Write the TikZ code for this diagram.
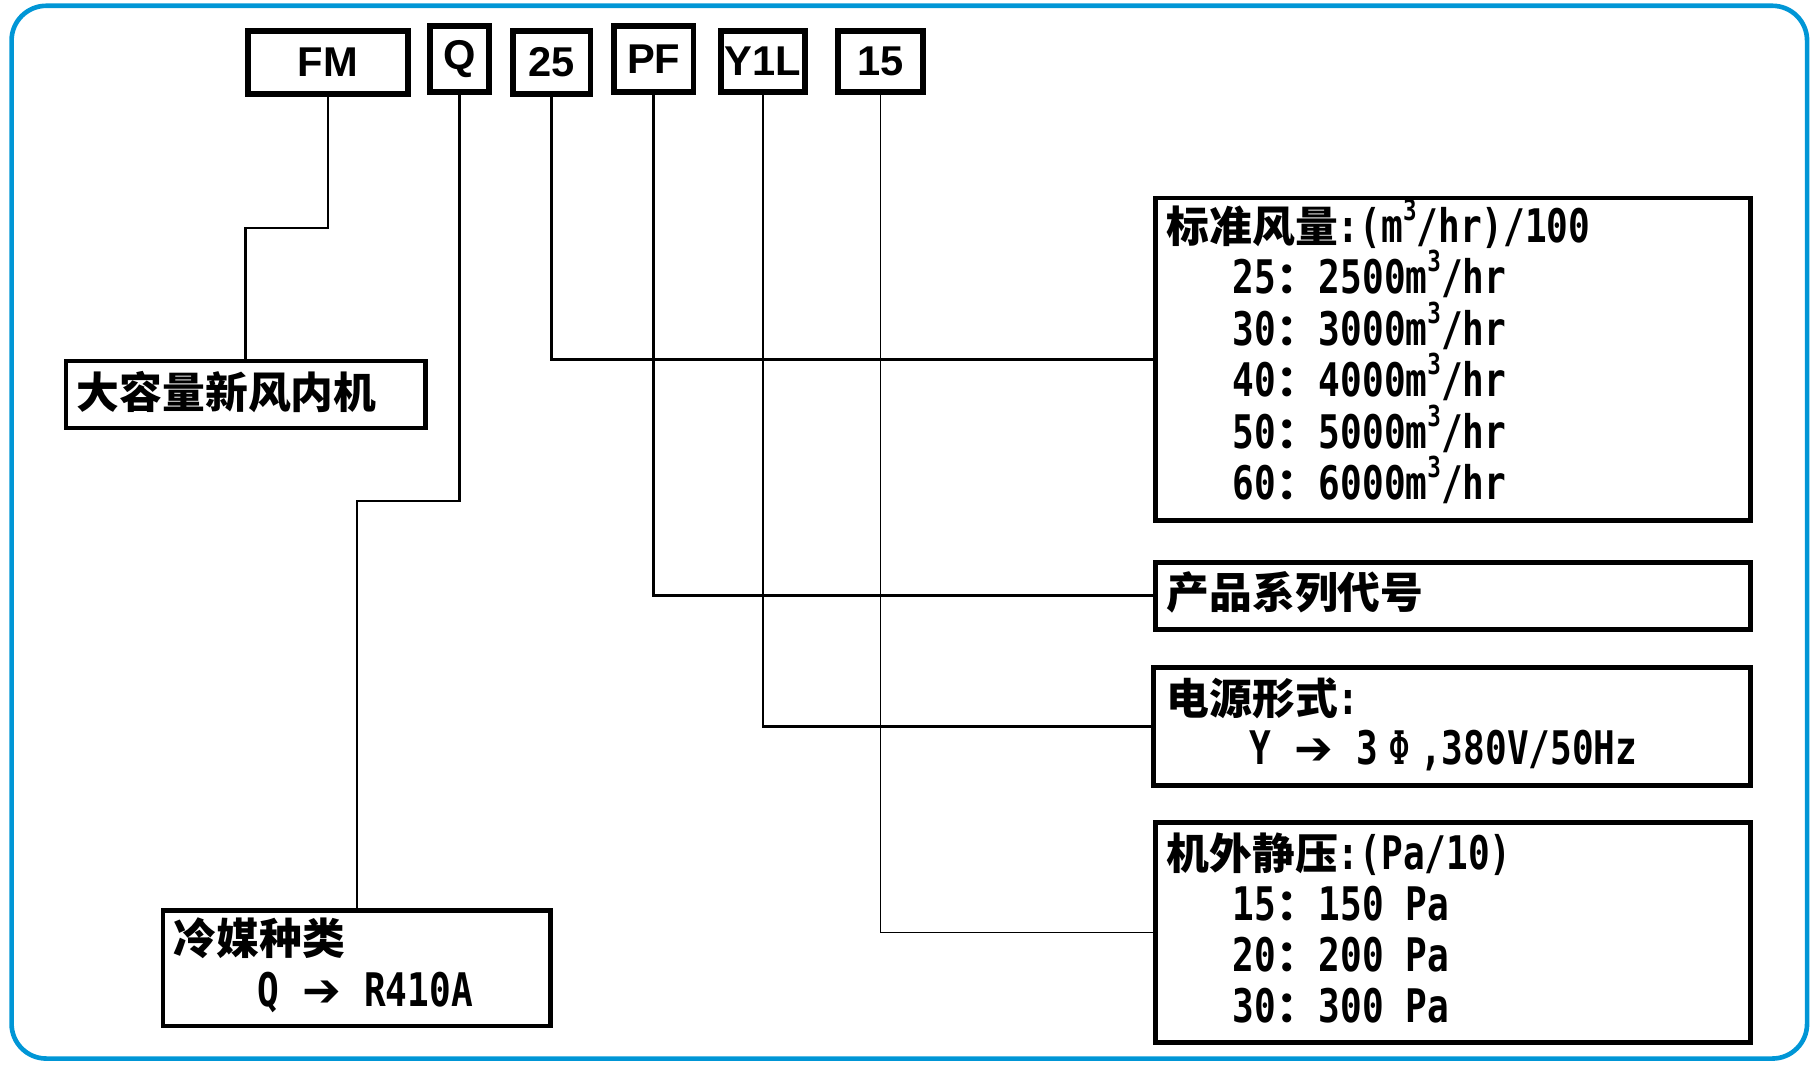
\documentclass[tikz,border=0pt]{standalone}
\usepackage{fontspec}
\setmainfont{DejaVu Sans Mono}[FakeStretch=0.78]
\newfontfamily\thinlat{DejaVu Sans Mono}[FakeStretch=0.8]
\newfontfamily\cjk{Noto Sans CJK SC}
\newfontfamily\lab{Liberation Sans}
\newfontfamily\arr{DejaVu Sans}
\definecolor{frameblue}{RGB}{0,150,214}
\newcommand\zh[1]{{\cjk\bfseries\fontsize{18.5pt}{18.5pt}\selectfont #1}}
\newcommand\cub{\smash{\raisebox{9.5pt}{\fontsize{12.5pt}{12.5pt}\selectfont 3}}}
\newcommand\rarr{\makebox[18pt][c]{\arr\fontsize{20pt}{20pt}\selectfont ➔}}
\newcommand\phii{\makebox[18pt][c]{\mdseries\thinlat\fontsize{20pt}{20pt}\selectfont Φ}}
\begin{document}
\begin{tikzpicture}[x=0.5pt,y=-0.5pt,
  topbox/.style={draw,line width=2.5pt,inner sep=0pt,font=\lab\bfseries\fontsize{18pt}{18pt}\selectfont},
  box/.style={draw,line width=2pt,inner sep=0pt},
  conn/.style={line width=1.2pt},
  thinconn/.style={line width=0.6pt},
  txt/.style={anchor=base west,inner sep=0pt,font=\bfseries\fontsize{20pt}{20pt}\selectfont}]
\useasboundingbox (0,0) rectangle (1568,920);
\draw[frameblue,line width=2pt,rounded corners=15pt] (10,5) rectangle (1562,915);

% top code boxes
\node[topbox,minimum width=69pt,minimum height=27.5pt] (fm) at (283.5,54) {FM};
\node[topbox,minimum width=25.5pt,minimum height=28.5pt] (q) at (397,51) {Q};
\node[topbox,minimum width=33.5pt,minimum height=27.5pt] (b25) at (477,54) {25};
\node[topbox,minimum width=34.5pt,minimum height=28.5pt] (pf) at (565,51) {PF};
\node[topbox,minimum width=36pt,minimum height=26.5pt] (y1l) at (659.5,53) {Y1L};
\node[topbox,minimum width=36.5pt,minimum height=26.5pt] (b15) at (761,53) {15};

% description boxes
\node[box,minimum width=155.5pt,minimum height=29pt] (l1) at (212.5,341) {};
\node[box,minimum width=167.5pt,minimum height=50pt] (l2) at (308.5,837) {};
\node[box,minimum width=257pt,minimum height=139.5pt] (r1) at (1256,310.5) {};
\node[box,minimum width=257pt,minimum height=29pt] (r2) at (1256,515) {};
\node[box,minimum width=258pt,minimum height=51pt] (r3) at (1255,628) {};
\node[box,minimum width=257pt,minimum height=95pt] (r4) at (1256,806) {};

% texts
\node[txt] (tl1) at (66,353) {\zh{大容量新风内机}};
\node[txt] (tl2a) at (150,825) {\zh{冷媒种类}};
\node[txt] (tl2b) at (222,870) {Q \rarr{} R410A};

\node[txt] (tr1a) at (1008,210) {\zh{标准风量}:(m\cub/hr)/100};
\node[txt] (tr1b) at (1065,254) {25\zh{：}2500m\cub/hr};
\node[txt] (tr1c) at (1065,299) {30\zh{：}3000m\cub/hr};
\node[txt] (tr1d) at (1065,343) {40\zh{：}4000m\cub/hr};
\node[txt] (tr1e) at (1065,388) {50\zh{：}5000m\cub/hr};
\node[txt] (tr1f) at (1065,432) {60\zh{：}6000m\cub/hr};

\node[txt] (tr2) at (1008,526) {\zh{产品系列代号}};

\node[txt] (tr3a) at (1008,618) {\zh{电源形式}:};
\node[txt] (tr3b) at (1080,661) {Y \rarr{} 3\phii,380V/50Hz};

\node[txt] (tr4a) at (1008,752) {\zh{机外静压}:(Pa/10)};
\node[txt] (tr4b) at (1065,796) {15\zh{：}150 Pa};
\node[txt] (tr4c) at (1065,840) {20\zh{：}200 Pa};
\node[txt] (tr4d) at (1065,884) {30\zh{：}300 Pa};

% connectors
\coordinate (fmk) at (283.5,197);
\coordinate (qk) at (397,433);
\draw[conn] (fm.south) -- (fmk) -| (l1.north);
\draw[conn] (q.south) -- (qk) -| (l2.north);
\draw[conn] (b25.south) |- (r1.west);
\draw[conn] (pf.south) |- (r2.west);
\draw[conn] (y1l.south) |- (r3.west);
\draw[thinconn] (b15.south) |- (r4.west);
\end{tikzpicture}
\end{document}
